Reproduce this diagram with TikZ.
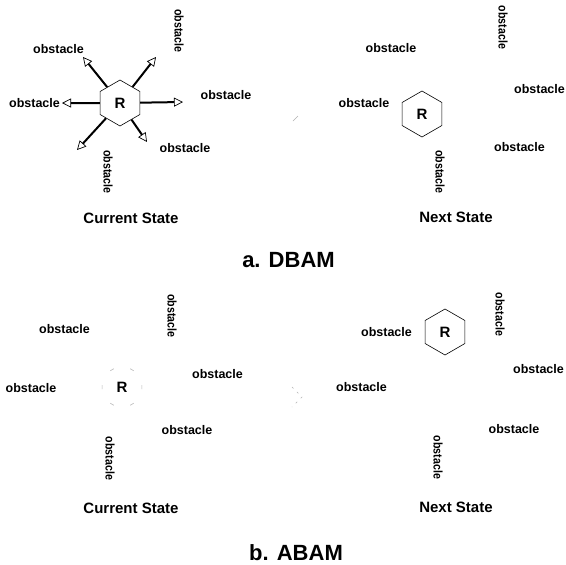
\documentclass[tikz,border=0pt]{standalone}
\usepackage{fontspec}
\usepackage{graphicx}
\setmainfont{Liberation Sans}
\usetikzlibrary{shapes.geometric,arrows.meta}
\begin{document}
\begin{tikzpicture}[x=1pt,y=-1pt,
  obs/.style={font=\bfseries\fontsize{12.5}{14}\selectfont, inner sep=0pt},
  vobs/.style={obs, rotate=-90},
  statecap/.style={font=\bfseries\fontsize{15}{17}\selectfont, inner sep=0pt},
  ttl/.style={font=\bfseries\fontsize{22}{25}\selectfont, inner sep=0pt},
  hexa/.style={draw, regular polygon, regular polygon sides=6, shape border rotate=30,
    minimum size=46pt, inner sep=0pt, line width=0.6pt, font=\bfseries\fontsize{15}{17}\selectfont},
  fadedhex/.style={hexa, draw=gray!55, dash pattern=on 4pt off 19pt, dash phase=13.5pt},
  ray/.style={line width=2pt, -{Triangle[open,length=9pt,width=9pt,line width=0.7pt]}},
  faint/.style={draw=gray!60, line width=0.5pt},
]
\fill[white] (0,0) rectangle (566,565);
\useasboundingbox (0,0) rectangle (566,565);

% ---------- a. DBAM : current state ----------
\node[hexa] (hA) at (120,103) {R};
\node[obs]  (a1) at (58.5,49) {obstacle};
\node[vobs] (a2) at (179,31) {\scalebox{0.85}[1]{obstacle}};
\node[obs]  (a3) at (34.5,103) {obstacle};
\node[obs]  (a4) at (226,95) {obstacle};
\node[obs]  (a5) at (185,148) {obstacle};
\node[vobs] (a6) at (108,172) {\scalebox{0.85}[1]{obstacle}};
\coordinate (t1) at (83,57);
\coordinate (t2) at (156,57);
\coordinate (t3) at (62,103);
\coordinate (t4) at (183,102);
\coordinate (t5) at (77,150);
\coordinate (t6) at (147,142);
\foreach \t in {t1,t2,t3,t4,t5,t6} \draw[ray] (hA) -- (\t);
\node[statecap] (c1) at (131,218) {Current State};

% ---------- a. DBAM : next state ----------
\node[hexa] (hB) at (422,114) {R};
\node[obs]  (n1) at (391,48) {obstacle};
\node[vobs] (n2) at (503,27.5) {\scalebox{0.85}[1]{obstacle}};
\node[obs]  (n3) at (539.5,89) {obstacle};
\node[obs]  (n4) at (364,103) {obstacle};
\node[obs]  (n5) at (519.5,147) {obstacle};
\node[vobs] (n6) at (440,172) {\scalebox{0.85}[1]{obstacle}};
\node[statecap] (s1) at (456,217) {Next State};
\draw[faint] (293,121) -- (298,116);

\node[ttl] (ta) at (288.5,260) {a. DBAM};

% ---------- b. ABAM : current state ----------
\node[fadedhex] (hC) at (122,387) {R};
\node[obs]  (b1) at (64.5,329) {obstacle};
\node[vobs] (b2) at (172,316) {\scalebox{0.85}[1]{obstacle}};
\node[obs]  (b3) at (31,388) {obstacle};
\node[obs]  (b4) at (217.5,374) {obstacle};
\node[obs]  (b5) at (187,430) {obstacle};
\node[vobs] (b6) at (110,458.5) {\scalebox{0.85}[1]{obstacle}};
\node[statecap] (c2) at (131,508) {Current State};

% ---------- b. ABAM : next state ----------
\node[hexa] (hD) at (445,332) {R};
\node[obs]  (d1) at (386.5,332) {obstacle};
\node[vobs] (d2) at (500,314.5) {\scalebox{0.85}[1]{obstacle}};
\node[obs]  (d3) at (538.5,369) {obstacle};
\node[obs]  (d4) at (361.5,387) {obstacle};
\node[obs]  (d5) at (514,429) {obstacle};
\node[vobs] (d6) at (438,457.5) {\scalebox{0.85}[1]{obstacle}};
\node[statecap] (s2) at (456,507) {Next State};
\draw[faint, dash pattern=on 2pt off 5pt] (292,387) -- (302,397) -- (292,407);

\node[ttl] (tb) at (296,553) {b. ABAM};
\end{tikzpicture}
\end{document}
